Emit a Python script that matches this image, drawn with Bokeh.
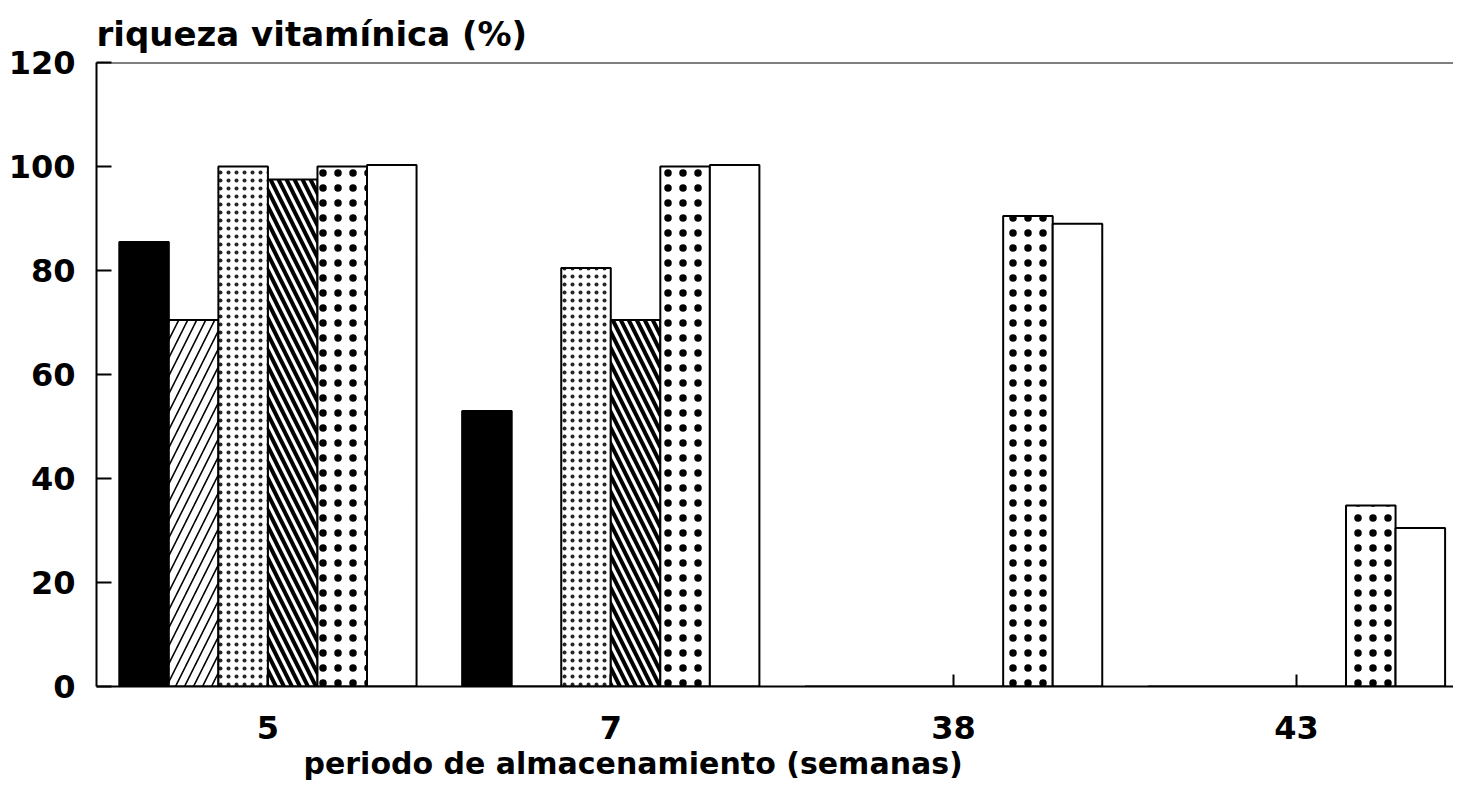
from bokeh.plotting import figure
from bokeh.models import Range1d, Span, FixedTicker, Title
from bokeh.transform import dodge
from bokeh.embed import file_html
from bokeh.resources import INLINE

weeks = ["5", "7", "38", "43"]
s_black = [85.5, 53.0, 0.0, 0.0]
s_diag = [70.5, 0.0, 0.0, 0.0]
s_fine = [100.0, 80.5, 0.0, 0.0]
s_back = [97.5, 70.5, 0.0, 0.0]
s_bold = [100.0, 100.0, 90.5, 34.8]
s_white = [100.3, 100.3, 89.0, 30.5]

y_ticks = [0, 20, 40, 60, 80, 100, 120]
x_label = "periodo de almacenamiento (semanas)"
y_label = "riqueza vitamínica (%)"

FONT = "DejaVu Sans"
xs = list(range(len(weeks)))
data = dict(x=xs, s_black=s_black, s_diag=s_diag, s_fine=s_fine,
            s_back=s_back, s_bold=s_bold, s_white=s_white)

p = figure(frame_width=1357, frame_height=624, output_backend="svg",
           toolbar_location=None, x_range=Range1d(-0.5, 3.458),
           y_range=Range1d(0, 120),
           min_border_left=96, min_border_top=62, min_border_bottom=96,
           min_border_right=0)
p.outline_line_color = None
p.grid.visible = False
p.background_fill_color = "white"
p.border_fill_color = "white"

p.title.text = y_label
p.title.align = "left"
p.title.text_font = FONT
p.title.text_font_style = "bold"
p.title.text_font_size = "34px"
p.title.text_color = "black"
p.title.standoff = 18

bw = 0.1445
styles = [
    ("s_black", dict(fill_color="black")),
    ("s_diag", dict(fill_color="white", hatch_pattern="/", hatch_scale=18, hatch_weight=1.6, hatch_color="black")),
    ("s_fine", dict(fill_color="white", hatch_pattern="dot", hatch_scale=8, hatch_weight=0.05,
                    hatch_color="black", hatch_alpha=0.85)),
    ("s_back", dict(fill_color="white", hatch_pattern="\\", hatch_scale=16, hatch_weight=4, hatch_color="black")),
    ("s_bold", dict(fill_color="white", hatch_pattern="dot", hatch_scale=15, hatch_weight=1, hatch_color="black")),
    ("s_white", dict(fill_color="white")),
]
for i, (col, st) in enumerate(styles):
    off = (i - 2.5) * bw
    p.vbar(x=dodge("x", off, range=p.x_range), top=col, width=bw, source=data,
           line_color="black", line_width=2, **st)

p.add_layout(Span(location=120, dimension="width", line_color="black", line_width=2))

for ax in (p.xaxis[0], p.yaxis[0]):
    ax.axis_line_width = 2
    ax.axis_line_color = "black"
    ax.major_tick_line_width = 2
    ax.major_tick_out = 0
    ax.minor_tick_line_color = None
    ax.major_label_text_font = FONT
    ax.major_label_text_font_style = "bold"
    ax.major_label_text_font_size = "32px"
    ax.major_label_text_color = "black"

p.yaxis.ticker = FixedTicker(ticks=y_ticks)
p.yaxis.major_tick_in = 15
p.yaxis.major_label_standoff = 21

p.xaxis.ticker = FixedTicker(ticks=xs)
p.xaxis.major_label_overrides = {i: w for i, w in enumerate(weeks)}
p.xaxis.major_tick_in = 12
p.xaxis.major_label_standoff = 29

p.add_layout(Title(text=x_label, align="left", offset=207, text_font=FONT,
                   text_font_style="bold", text_font_size="30px",
                   text_color="black", standoff=5), "below")

open("out.html", "w").write(file_html(p, INLINE))
